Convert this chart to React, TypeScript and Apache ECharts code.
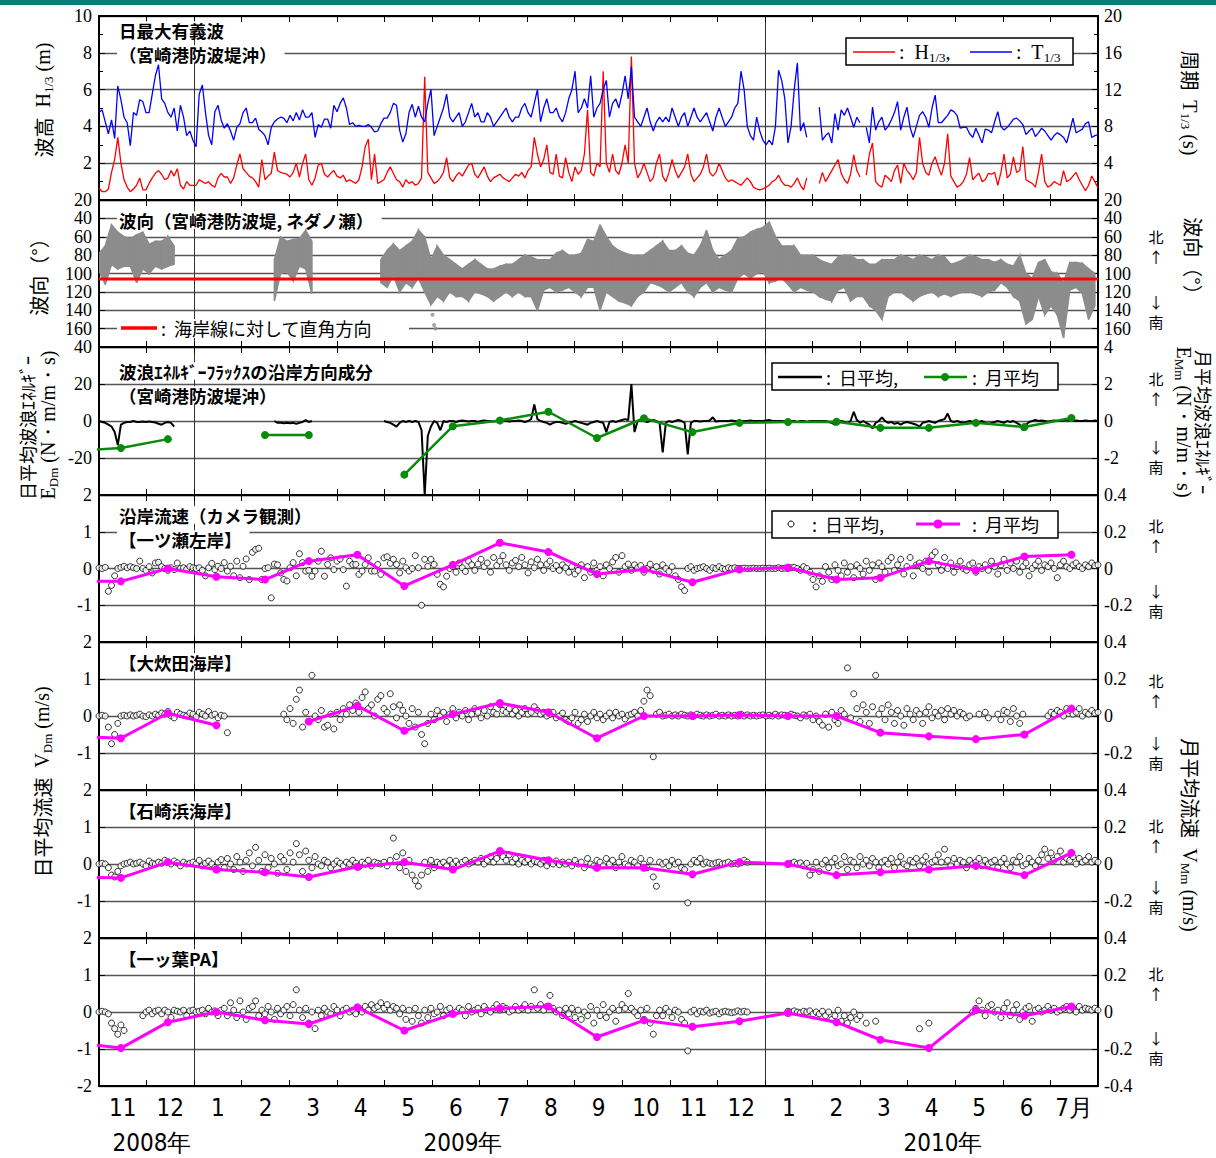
import React, { useEffect, useRef } from 'react';
import * as echarts from 'echarts';

// ---------- categories / labels ----------
const MONTH_LABELS = ['11', '12', '1', '2', '3', '4', '5', '6', '7', '8', '9', '10', '11', '12', '1', '2', '3', '4', '5', '6', '7月'];
const YEAR_LABELS = ['2008年', '2009年', '2010年'];
const X_MAX_DAY = 638; // days from 2008-11-01 to 2010-08-01
const DAILY_STEP = 2; // daily arrays: one value every 2 days from 2008-11-01
const DIR_STEP = 4; // wave-direction band: one lo/hi pair every 4 days
const SHORE_NORMAL_DIR = 106; // 海岸線に対して直角方向 (deg)

// ---------- panel 1: 日最大有義波 ----------
const H_DAILY = [
  0.65, 0.45, 0.45, 0.6, 1.5, 2.2, 3.4, 2.0, 1.1, 0.7,
  0.45, 0.6, 0.8, 1.2, 0.55, 0.55, 0.9, 1.2, 1.45, 1.6,
  1.4, 1.1, 1.2, 1.6, 1.3, 1.7, 0.8, 0.6, 1.0, 0.8,
  0.8, 0.8, 1.1, 1.0, 0.9, 1.0, 0.8, 0.7, 1.2, 1.45,
  1.25, 1.25, 0.9, 1.2, 1.9, 2.5, 1.7, 1.5, 1.3, 1.2,
  1.0, 0.7, 2.2, 1.1, 1.3, 1.45, 2.6, 1.6, 1.5, 1.45,
  1.4, 1.25, 1.5, 2.0, 1.25, 2.0, 2.5, 1.1, 0.8, 1.2,
  1.9, 2.0, 1.4, 1.25, 1.45, 1.6, 1.3, 1.2, 1.35, 1.0,
  1.1, 1.0, 0.9, 1.1, 1.8, 2.9, 3.3, 1.1, 2.5, 0.9,
  1.0, 1.1, 1.5, 1.8, 1.45, 1.1, 1.0, 0.7, 1.1, 0.9,
  1.0, 0.8, 0.9, 1.2, 6.7, 1.5, 1.2, 0.9, 1.0, 1.2,
  1.5, 2.3, 1.2, 1.0, 1.3, 1.5, 1.3, 1.6, 1.9, 2.0,
  1.4, 1.2, 1.5, 1.8, 1.3, 1.0, 1.2, 1.3, 1.4, 1.2,
  1.1, 1.0, 1.2, 1.4, 1.3, 1.5, 1.2, 1.6, 1.8, 3.4,
  2.5, 1.8, 2.2, 3.0, 1.5, 1.4, 2.5, 1.3, 1.2, 2.3,
  1.5, 1.0, 1.8, 1.4, 1.6, 2.5, 4.9, 1.5, 1.3, 2.0,
  1.8, 7.0, 2.0, 1.5, 2.5, 1.6, 1.4, 2.0, 3.0, 2.0,
  7.8, 2.0, 1.2, 1.5, 2.0, 1.5, 1.0, 1.2, 2.0, 2.5,
  1.3, 1.0, 1.5, 2.2, 1.6, 1.2, 1.5, 1.8, 2.5, 1.4,
  1.0, 1.2, 1.4, 1.8, 2.5, 1.5, 1.3, 1.5, 2.0, 1.6,
  1.2, 1.0, 1.1, 1.0, 0.9, 0.8, 1.0, 1.2, 1.0, 0.7,
  0.6, 0.55, 0.6, 0.7, 0.8, 1.0, 1.1, 1.35, 1.0, 0.8,
  0.8, 0.7, 0.9, 1.2, 0.8, 0.55, 1.2, null, null, null,
  0.9, 1.5, 1.0, 1.3, 1.6, 1.9, 2.2, 1.45, 1.1, 0.9,
  1.4, 2.45, 1.6, 1.25, null, 1.35, 2.5, 3.1, 1.0, 0.8,
  0.7, 1.35, 1.2, 1.0, 1.6, 1.9, 0.9, 2.0, 1.6, 1.4,
  1.1, 1.5, 3.4, 2.0, 1.5, 1.35, 2.0, 2.35, 1.8, 1.35,
  2.0, 3.6, 1.3, 1.0, 0.7, 0.8, 1.0, 1.4, 2.3, 1.1,
  1.3, 1.45, 1.0, 1.1, 1.45, 1.4, 1.5, 0.8, 1.5, 2.5,
  1.2, 1.4, 2.35, 1.5, 1.6, 2.9, 1.1, 1.0, 0.9, 0.7,
  1.5, 2.5, 1.0, 0.7, 0.8, 1.0, 0.9, 0.8, 1.6, 1.0,
  1.1, 1.3, 1.5, 1.1, 0.8, 0.5, 0.8, 1.3, 1.0, 0.65,
];
const T_DAILY = [
  9.5, 9.8, 8.5, 7.2, 8.7, 6.7, 12.4, 10.9, 9.0, 8.4,
  5.9, 9.5, 9.2, 10.9, 10.7, 9.5, 9.5, 11.5, 13.5, 14.7,
  11.0, 10.5, 9.5, 9.0, 10.0, 7.5, 10.3, 9.0, 7.0, 7.5,
  6.5, 5.8, 11.5, 12.5, 9.5, 7.0, 6.0, 9.6, 10.3, 8.7,
  7.8, 8.3, 7.5, 6.5, 7.9, 8.3, 9.5, 10.0, 8.4, 8.4,
  8.9, 7.7, 7.4, 7.0, 6.0, 7.9, 8.5, 8.8, 9.0, 8.9,
  8.4, 9.2, 8.6, 9.5, 8.7, 9.8, 9.0, 9.0, 9.5, 6.8,
  8.2, 7.9, 8.8, 8.8, 7.8, 10.3, 9.6, 10.5, 11.1, 10.0,
  8.2, 8.4, 8.0, 8.1, 8.0, 8.0, 8.2, 7.9, 7.4, 7.5,
  8.3, 8.9, 8.9, 9.5, 10.5, 10.3, 7.6, 6.3, 7.2, 9.5,
  10.4, 9.0, 10.2, 9.0, 8.5, 10.5, 12.0, 7.0, 8.0, 9.0,
  10.0, 11.5, 9.0, 8.5, 9.0, 9.5, 8.0, 8.5, 9.5, 10.5,
  9.0, 9.5, 8.5, 8.5, 9.5, 9.0, 8.0, 8.5, 9.0, 9.5,
  10.0, 9.0, 8.5, 9.0, 9.0, 10.0, 10.5, 9.5, 9.0, 10.5,
  12.0, 8.5, 10.0, 11.0, 9.5, 9.5, 10.0, 9.0, 8.5, 9.5,
  11.0, 12.0, 14.0, 9.5, 10.0, 11.0, 10.0, 13.5, 9.0, 10.0,
  10.5, 12.0, 13.0, 9.0, 10.5, 11.0, 10.0, 11.5, 13.5, 11.0,
  14.5, 9.0, 8.5, 8.0, 9.0, 10.0, 8.5, 7.5, 8.5, 9.0,
  8.5, 9.0, 8.5, 10.0, 9.0, 8.0, 9.0, 9.5, 8.0, 9.0,
  10.0, 9.0, 8.5, 9.0, 9.5, 8.5, 7.5, 9.0, 10.0, 9.0,
  8.0, 8.5, 9.0, 10.0, 10.5, 14.0, 12.0, 8.0, 7.0, 6.5,
  9.0, 7.5, 6.5, 6.0, 6.5, 6.0, 8.0, 14.1, 13.0, 11.0,
  6.2, 8.0, 12.0, 14.9, 7.5, 8.4, 6.8, null, null, null,
  10.1, 6.5, 7.0, 7.3, 6.2, 9.4, 7.6, 9.8, 9.2, 10.0,
  9.0, 7.9, 9.0, 8.4, null, 7.9, 6.2, 10.1, 7.6, 8.5,
  9.0, 7.6, 8.0, 8.7, 9.5, 10.7, 7.6, 9.0, 10.1, 7.9,
  6.8, 8.0, 9.2, 9.6, 9.0, 7.9, 10.0, 11.4, 8.4, 8.4,
  8.8, 9.2, 9.8, 9.6, 9.2, 7.8, 7.9, 7.9, 7.2, 6.8,
  7.8, 7.0, 6.2, 7.7, 7.6, 7.3, 8.5, 9.6, 8.0, 7.6,
  7.9, 8.3, 8.8, 8.9, 8.6, 8.2, 7.1, 7.5, 7.8, 6.9,
  7.3, 7.8, 7.5, 7.0, 6.5, 7.0, 7.3, 7.1, 6.8, 6.2,
  7.5, 8.9, 7.3, 7.5, 7.7, 8.3, 8.5, 6.8, 7.0, 7.1,
];

// ---------- panel 2: 波向 (band low / high, deg) ----------
const DIR_LO = [
  78, 70, 47, 55, 60, 62, 58, 55, 68, 65, 65, 60, 70,
  null, null, null, null, null, null, null, null, null, null, null, null, null, null, null,
  85, 60, 65, 63, 62, 53, 65,
  null, null, null, null, null, null, null, null, null, null,
  85, 75, 68, 75, 70, 65, 53, 60, 85, 70,
  80, 85, 90, 95, 90, 85, 90, 95, 95, 92,
  90, 90, 85, 80, 82, 85, 85, 85, 78, 75,
  80, 80, 78, 63, 65, 47, 60, 70, 75, 78,
  80, 80, 80, 75, 70, 65, 75, 75, 70, 78,
  80, 70, 53, 75, 85, 80, 75, 62, 60, 55,
  52, 50, 44, 60, 70, 70, 70, 80, 80, 80,
  85, 88, 90, 82, 80, 80, 85, 85, 90, 90,
  85, 85, 85, 80, 82, 85, 80, 82, 85, 80,
  82, 90, 88, 85, 80, 82, 85, 85, 88, 85,
  90, 92, 80, 100, 105, 88, 85, 98, 100, 110,
  88, 88, 89, 95, 100,
];
const DIR_HI = [
  97, 112, 90, 95, 92, 92, 110, 95, 100, 92, 95, 92, 90,
  null, null, null, null, null, null, null, null, null, null, null, null, null, null, null,
  130, 100, 98, 108, 92, 95, 122,
  null, null, null, null, null, null, null, null, null, null,
  110, 115, 102, 120, 110, 115, 105, 120, 134, 125,
  130, 120, 125, 125, 130, 120, 122, 125, 130, 125,
  120, 125, 120, 125, 125, 140, 118, 115, 120, 118,
  115, 120, 125, 115, 115, 140, 120, 125, 130, 132,
  135, 125, 120, 110, 112, 115, 120, 115, 110, 120,
  125, 115, 110, 120, 115, 118, 120, 105, 100, 105,
  100, 98, 110, 108, 105, 112, 120, 115, 118, 120,
  125, 128, 130, 118, 115, 130, 125, 125, 135, 140,
  150, 125, 120, 120, 125, 130, 125, 122, 120, 125,
  122, 125, 122, 120, 120, 122, 125, 120, 118, 110,
  115, 125, 130, 155, 150, 125, 145, 135, 145, 170,
  118, 115, 122, 150, 135,
];
const DIR_OUTLIER_DAYS = [213, 214, 215];
const DIR_OUTLIER_DEG = [145, 156, 160];

// ---------- panel 3: 波浪ｴﾈﾙｷﾞｰﾌﾗｯｸｽ ----------
const E_DAILY = [
  0, -0.5, -1, -2, -3, -6, -13, -2, -1, -0.5,
  -0.5, 0, -0.5, -0.5, -0.3, -0.5, -0.3, -0.5, -0.8, -1.5,
  -2, -1, -0.5, -1, -3, null, null, null, null, null,
  null, null, null, null, null, null, null, null, null, null,
  null, null, null, null, null, null, null, null, null, null,
  null, null, null, null, null, null, 0, -1, -1, -1.2,
  -1, -1.2, -1, -1.5, -1, -0.5, 0.5, -0.5, 0, null,
  null, null, null, null, null, null, null, null, null, null,
  null, null, null, null, null, null, null, null, null, null,
  null, 0, -0.5, -1, -2, -3, -1, 0, -0.5, 0,
  -0.5, 0, -0.5, -5, -40, -8, -3, 0, -1, -5,
  0, -0.5, 0, 0, -0.5, 0, 0.3, 0, -0.3, 0,
  0, -0.5, 0, 0.3, 0, 0, -0.3, 0, 0, 0.5,
  0, -0.3, 0, 0, 0.3, 0, -0.5, 0, 1, 9,
  1, 0, -0.5, -1, -2, -1, -0.5, -0.5, -1, -1.5,
  -1, -0.5, 0, -0.5, -1, -1.5, -2, -1, -0.5, 0,
  -0.5, -1, -6, -0.5, 0, -0.5, 0, 0.5, 1, 0.5,
  20, -6, 0, 0.5, 0, -0.5, 0, 0.5, 0, -1,
  -17, -1, 0, -0.5, 0, 0.5, 0, -1, -18, -1,
  0, 0, -0.3, 0, 0, 0.3, 2, -0.3, 0, 0,
  0, 0, 0.3, 0, 0, -0.3, 0, 0, 0.3, 0,
  0, 0, 0, 0.3, 0.5, 0, 0, 0, 0, -0.3,
  0, 0, 0, -0.5, 0, 0, -0.5, 0, 0, 0,
  0, 0, 0, -0.5, -1, -2, -0.5, 0, -0.5, -1,
  0, 5, 0.5, -1, 0, -1, -2, -4, -1, 0,
  2, 0, -1, -0.5, -1.5, -1, -2, -1, -0.5, -1,
  -1.5, -2, -3, -1, -0.5, 0, -0.5, -1, 0, 0.5,
  1, 4, 0, -0.5, 0, -0.5, -1, -0.5, 0, -0.5,
  -1, -0.5, 0, -1, -1.5, -1, -0.5, 0, -0.5, -1,
  0, -0.5, 0, -1, -2, -5, -2, -0.5, 0, 0.5,
  0, 0.3, 0, -0.3, 0, 0.3, 0, 0, 0.3, 0.5,
  0, 0, 0.3, 0, 0, 0.3, 0, 0, 0.3, 0,
];
// monthly means, Oct 2008 .. Jul 2010 (right axis)
const E_MONTHLY = [-1.62, -1.46, -0.98, null, -0.76, -0.76, null, -2.9, -0.28, 0.03, 0.5, -0.92, 0.15, -0.6, -0.1, -0.05, -0.04, -0.37, -0.37, -0.1, -0.32, 0.16];

// ---------- panels 4-7: 沿岸流速 ----------
const V_ICHITSUSE_DAILY = [
  0.02, 0.0, 0.03, -0.62, -0.46, -0.2, 0.0, 0.03, 0.06, 0.02,
  0.05, 0.02, 0.0, 0.2, 0.0, -0.05, 0.05, -0.12, 0.15, 0.17,
  0.05, 0.0, -0.05, 0.02, -0.03, 0.15, 0.0, 0.02, -0.02, 0.05,
  0.02, 0.0, 0.02, -0.05, -0.2, 0.02, 0.14, -0.03, 0.06, 0.0,
  0.16, -0.07, 0.06, -0.2, 0.2, -0.25, 0.06, 0.26, -0.3, 0.44,
  0.52, 0.55, -0.3, 0.0, 0.02, -0.8, 0.12, 0.1, -0.12, -0.3,
  -0.34, 0.02, 0.16, -0.2, 0.4, 0.16, -0.07, -0.05, -0.21, -0.07,
  0.2, 0.47, -0.21, 0.11, 0.29, -0.03, 0.2, 0.26, -0.03, -0.48,
  0.2, 0.11, 0.11, -0.16, -0.07, 0.11, 0.29, -0.07, -0.07, 0.11,
  -0.16, 0.29, 0.32, 0.14, 0.25, 0.11, -0.12, 0.2, 0.02, -0.07,
  0.0, 0.35, 0.02, -1.0, 0.25, 0.06, 0.25, 0.11, -0.16, -0.43,
  -0.5, -0.21, 0.0, 0.05, -0.1, 0.15, 0.02, -0.08, 0.2, 0.1,
  -0.05, 0.12, 0.25, 0.05, 0.15, -0.1, 0.3, 0.08, 0.2, 0.35,
  0.1, -0.05, 0.15, 0.22, 0.05, 0.3, 0.1, -0.12, 0.18, 0.02,
  0.25, 0.1, -0.05, 0.12, 0.2, 0.0, 0.08, -0.05, 0.1, 0.02,
  -0.1, 0.05, -0.15, -0.05, 0.1, -0.25, 0.05, -0.1, 0.15, -0.05,
  0.05, -0.2, 0.1, 0.0, 0.18, 0.3, -0.1, 0.35, 0.05, 0.12,
  -0.05, 0.1, 0.02, 0.08, -0.1, 0.0, 0.12, -0.05, 0.05, -0.15,
  0.1, 0.0, -0.08, 0.05, -0.2, -0.3, -0.5, -0.6, 0.0, 0.05,
  -0.05, 0.0, 0.02, 0.05, 0.0, -0.05, 0.02, 0.0, 0.05, 0.0,
  -0.02, 0.02, 0.0, 0.02, 0.0, 0.0, 0.01, 0.0, 0.0, 0.01,
  0.0, 0.0, 0.01, 0.0, 0.01, 0.0, 0.0, 0.02, 0.0, 0.01,
  0.0, 0.02, 0.03, 0.0, -0.05, 0.05, 0.0, -0.1, -0.3, -0.5,
  -0.2, -0.35, 0.05, -0.1, -0.3, 0.1, -0.05, -0.2, 0.15, -0.1,
  0.05, -0.25, 0.1, 0.0, -0.15, 0.2, -0.05, 0.1, -0.3, 0.15,
  0.05, -0.1, 0.2, 0.3, -0.05, 0.1, 0.25, -0.15, 0.05, 0.3,
  -0.2, 0.1, 0.15, 0.0, 0.2, -0.1, 0.35, 0.45, 0.1, -0.05,
  0.3, 0.0, 0.15, -0.1, 0.05, 0.2, 0.0, -0.05, 0.1, 0.15,
  -0.1, 0.05, 0.0, 0.1, -0.05, 0.2, 0.05, -0.15, 0.1, 0.25,
  -0.05, 0.15, 0.0, 0.2, -0.1, 0.05, 0.15, -0.2, 0.0, 0.1,
  0.2, -0.05, 0.1, 0.05, 0.15, 0.0, -0.25, 0.1, 0.2, 0.05,
  0.0, 0.1, 0.15, 0.05, 0.0, 0.1, 0.05, 0.15, 0.08, 0.1,
];
const V_OHIDA_DAILY = [
  0.0, 0.02, 0.0, -0.3, -0.75, -0.5, -0.2, 0.0, 0.02, 0.0,
  0.03, 0.0, 0.02, 0.05, 0.0, -0.02, 0.03, 0.0, 0.05, 0.02,
  0.08, 0.05, 0.12, 0.0, -0.05, 0.1, 0.05, 0.02, 0.0, 0.08,
  0.05, -0.02, 0.1, 0.05, 0.0, 0.12, 0.02, 0.05, -0.05, 0.02,
  0.0, -0.45, null, null, null, null, null, null, null, null,
  null, null, null, null, null, null, null, null, null, 0.05,
  -0.1, 0.2, -0.2, 0.45, 0.7, -0.3, 0.1, -0.15, 1.1, 0.0,
  -0.1, 0.15, -0.3, -0.25, 0.05, -0.35, 0.1, -0.1, 0.2, 0.05,
  0.3, 0.15, 0.35, 0.1, 0.5, 0.65, 0.2, 0.3, 0.0, 0.45,
  0.55, 0.2, 0.1, 0.6, 0.25, -0.05, 0.3, 0.15, 0.0, -0.2,
  0.2, -0.3, 0.1, -0.5, -0.75, -0.2, 0.05, -0.1, 0.15, 0.0,
  0.1, -0.15, 0.05, 0.2, -0.05, 0.1, 0.0, 0.15, -0.1, 0.05,
  0.2, 0.1, -0.05, 0.15, 0.0, 0.25, 0.1, 0.05, 0.3, 0.15,
  0.1, 0.2, 0.05, 0.15, 0.0, 0.1, 0.2, 0.05, 0.1, 0.25,
  0.15, 0.05, 0.1, 0.0, 0.05, 0.1, -0.05, 0.0, 0.08, -0.1,
  -0.15, -0.05, 0.1, -0.2, -0.1, 0.05, -0.15, 0.0, 0.1, -0.05,
  0.05, -0.1, 0.0, 0.08, -0.05, 0.1, 0.0, 0.05, -0.08, 0.02,
  0.05, 0.1, 0.0, 0.15, 0.4, 0.7, 0.55, -1.1, 0.05, 0.1,
  0.0, 0.02, 0.05, 0.0, 0.03, 0.0, 0.05, 0.02, 0.0, 0.03,
  0.0, 0.05, 0.02, 0.0, 0.03, 0.0, 0.02, 0.05, 0.0, 0.02,
  0.0, 0.03, 0.0, 0.02, 0.0, 0.05, 0.0, 0.03, 0.0, 0.02,
  0.0, 0.02, 0.03, 0.0, 0.02, 0.0, 0.05, 0.0, 0.03, 0.02,
  0.0, 0.05, 0.02, 0.0, -0.05, 0.03, 0.0, 0.05, -0.1, 0.0,
  -0.15, -0.25, 0.05, -0.3, 0.1, -0.1, -0.2, 0.15, 0.05, 1.3,
  -0.05, 0.6, 0.2, -0.15, 0.3, 0.1, -0.2, 0.25, 1.1, 0.05,
  0.2, -0.1, 0.3, 0.1, -0.2, 0.15, 0.0, -0.25, 0.2, 0.05,
  -0.1, 0.15, 0.05, -0.2, 0.1, 0.25, -0.05, 0.1, 0.0, 0.15,
  -0.1, 0.2, 0.05, 0.15, 0.0, 0.1, 0.05, -0.05, 0.0, null,
  null, 0.05, null, 0.1, -0.05, null, null, 0.05, -0.1, 0.15,
  0.1, -0.15, 0.2, 0.0, -0.2, 0.05, null, null, null, null,
  null, null, null, 0.0, 0.1, 0.05, 0.15, 0.1, 0.0, 0.2,
  0.15, 0.05, 0.1, 0.2, 0.0, 0.1, 0.05, 0.15, 0.08, 0.1,
];
const V_ISHIZAKI_DAILY = [
  0.0, 0.02, 0.0, -0.1, -0.3, -0.35, -0.2, -0.05, 0.0, 0.02,
  0.05, 0.0, 0.02, 0.05, 0.0, -0.05, 0.08, 0.02, 0.0, 0.05,
  0.02, 0.1, 0.05, 0.0, 0.08, 0.03, -0.05, 0.05, 0.0, 0.02,
  0.05, 0.0, 0.1, -0.05, 0.02, 0.08, 0.0, -0.1, 0.05, 0.12,
  -0.1, 0.15, 0.0, -0.15, 0.2, 0.05, -0.2, 0.1, 0.3, -0.05,
  0.45, 0.1, -0.2, 0.25, -0.1, 0.15, 0.0, -0.25, 0.2, 0.1,
  -0.15, 0.3, 0.05, 0.55, 0.25, -0.2, 0.35, 0.1, -0.1, 0.2,
  0.0, -0.05, 0.1, 0.05, -0.1, 0.0, 0.08, 0.02, -0.05, 0.05,
  0.0, 0.1, 0.02, -0.08, 0.05, 0.0, 0.1, -0.05, 0.05, 0.02,
  0.0, 0.05, -0.05, 0.1, 0.7, 0.2, -0.1, 0.3, -0.2, 0.1,
  -0.3, -0.45, -0.6, -0.3, 0.05, -0.2, 0.1, -0.1, 0.05, 0.0,
  0.05, -0.05, 0.1, 0.0, 0.08, -0.02, 0.05, 0.1, 0.0, 0.05,
  0.1, 0.05, 0.15, 0.0, 0.1, 0.2, 0.05, 0.15, 0.3, 0.2,
  0.1, 0.25, 0.05, 0.15, 0.0, 0.1, 0.05, 0.12, 0.0, 0.08,
  0.05, 0.0, 0.1, -0.05, 0.05, 0.0, 0.08, -0.02, 0.05, 0.0,
  0.05, -0.05, 0.1, 0.0, 0.05, -0.1, 0.15, 0.0, -0.05, 0.1,
  0.05, -0.05, 0.15, 0.0, 0.1, -0.1, 0.05, 0.2, 0.0, -0.05,
  0.1, 0.05, -0.05, 0.15, 0.0, -0.1, 0.1, -0.35, -0.6, 0.05,
  0.0, 0.05, -0.05, 0.1, 0.0, 0.05, -0.1, -0.15, -1.05, 0.0,
  0.1, 0.05, 0.15, 0.0, 0.05, 0.02, 0.0, 0.03, 0.05, 0.0,
  0.02, 0.05, 0.0, 0.02, 0.0, 0.03, 0.1, 0.05, null, null,
  null, null, null, null, null, null, null, null, null, null,
  0.0, 0.02, 0.05, 0.0, 0.03, -0.05, 0.02, -0.3, -0.15, 0.05,
  -0.2, 0.0, 0.1, -0.1, 0.05, 0.15, -0.05, 0.0, 0.2, -0.15,
  0.1, 0.05, -0.1, 0.2, 0.0, 0.1, -0.05, 0.15, 0.05, -0.1,
  0.05, 0.1, 0.0, 0.15, -0.1, 0.05, 0.2, 0.0, -0.05, 0.1,
  0.05, 0.15, -0.05, 0.1, 0.2, 0.0, 0.05, 0.1, 0.25, 0.05,
  0.4, 0.1, -0.05, 0.15, 0.0, 0.1, 0.05, -0.1, 0.1, 0.0,
  0.05, 0.15, -0.05, 0.1, 0.0, 0.05, 0.1, -0.1, 0.05, 0.15,
  0.0, -0.1, 0.1, 0.05, 0.2, -0.05, 0.0, 0.15, 0.05, -0.05,
  0.1, 0.25, 0.4, 0.15, 0.3, 0.1, 0.2, 0.35, 0.05, 0.15,
  0.1, 0.2, 0.0, 0.15, 0.05, 0.1, 0.2, 0.05, 0.1, 0.05,
];
const V_HITOTSUBA_DAILY = [
  0.0, 0.02, 0.0, -0.05, -0.3, -0.45, -0.6, -0.35, -0.5, null,
  null, null, null, null, -0.1, 0.0, 0.05, -0.05, 0.02, 0.05,
  -0.05, 0.05, 0.0, -0.15, 0.05, 0.02, 0.0, 0.05, -0.1, 0.03,
  0.05, 0.0, 0.02, 0.05, -0.05, 0.1, 0.0, 0.03, -0.1, 0.05,
  0.1, -0.1, 0.25, 0.05, -0.15, 0.3, 0.0, -0.2, 0.1, 0.15,
  0.3, -0.1, 0.05, -0.05, 0.15, 0.0, -0.2, 0.1, -0.05, 0.05,
  0.15, -0.1, 0.2, 0.6, 0.05, -0.15, 0.1, -0.3, 0.0, -0.45,
  0.05, -0.1, 0.1, 0.0, -0.05, 0.15, 0.05, -0.1, 0.05, 0.1,
  0.0, 0.05, -0.05, 0.1, 0.0, 0.15, 0.05, 0.2, 0.1, 0.15,
  0.25, 0.1, 0.2, 0.05, 0.15, 0.1, -0.05, 0.1, -0.2, 0.05,
  -0.25, 0.1, -0.1, -0.3, 0.05, -0.15, 0.1, -0.05, 0.0, 0.15,
  -0.1, 0.05, 0.1, -0.05, 0.0, 0.1, 0.05, -0.1, 0.15, 0.0,
  0.05, 0.1, -0.05, 0.15, 0.05, 0.0, 0.1, 0.2, 0.05, 0.15,
  0.1, 0.0, 0.05, 0.15, 0.05, 0.1, 0.2, 0.05, 0.15, 0.6,
  0.1, 0.2, 0.05, 0.15, 0.45, 0.1, 0.0, 0.05, -0.1, 0.1,
  -0.05, 0.1, -0.15, 0.05, -0.2, 0.0, -0.1, 0.15, -0.3, 0.05,
  -0.1, 0.2, -0.15, 0.0, 0.1, -0.25, 0.05, 0.2, 0.1, 0.5,
  0.1, 0.0, -0.1, 0.05, -0.2, 0.1, -0.3, -0.6, -0.1, 0.05,
  -0.1, 0.1, 0.0, -0.15, 0.05, 0.0, -0.2, -0.3, -1.05, 0.0,
  0.05, -0.05, 0.02, 0.0, 0.05, -0.03, 0.0, 0.02, -0.05, 0.0,
  0.02, 0.0, -0.02, 0.0, 0.03, 0.0, 0.02, 0.0, null, null,
  null, null, null, null, null, null, null, null, null, null,
  0.02, 0.0, 0.03, 0.0, -0.02, 0.02, 0.0, 0.03, -0.05, 0.0,
  -0.05, 0.02, -0.1, 0.0, -0.2, -0.1, 0.05, -0.25, -0.1, -0.3,
  -0.15, 0.0, -0.2, -0.1, null, -0.3, null, null, -0.25, null,
  null, null, null, null, null, null, null, null, null, null,
  null, null, -0.45, null, null, -0.3, null, null, null, null,
  null, null, null, null, null, null, null, null, null, 0.0,
  0.1, 0.3, 0.05, -0.1, 0.15, 0.2, 0.0, 0.05, -0.15, 0.1,
  0.25, -0.1, 0.05, 0.2, -0.2, 0.0, 0.1, 0.15, -0.25, 0.05,
  0.1, 0.0, 0.05, 0.15, 0.05, 0.1, 0.0, 0.05, 0.1, 0.15,
  0.05, 0.1, 0.0, 0.15, 0.05, 0.1, 0.08, 0.05, 0.1, 0.05,
];
// monthly means (right axis), Oct 2008 .. Jul 2010
const V_ICHITSUSE_MONTHLY = [-0.07, -0.07, 0.0, -0.045, -0.06, 0.04, 0.075, -0.095, 0.02, 0.14, 0.09, -0.03, -0.005, -0.075, -0.005, 0.005, -0.06, -0.05, 0.04, -0.01, 0.065, 0.075];
const V_OHIDA_MONTHLY = [-0.11, -0.12, 0.015, -0.05, null, -0.03, 0.055, -0.08, 0.01, 0.07, 0.02, -0.12, 0.0, 0.0, 0.005, 0.0, 0.0, -0.09, -0.11, -0.125, -0.1, 0.04];
const V_ISHIZAKI_MONTHLY = [-0.07, -0.075, 0.01, -0.03, -0.045, -0.07, -0.015, 0.01, -0.03, 0.07, 0.02, -0.02, -0.02, -0.055, 0.01, 0.0, -0.06, -0.045, -0.03, -0.01, -0.06, 0.06];
const V_HITOTSUBA_MONTHLY = [-0.165, -0.195, -0.055, 0.0, -0.045, -0.065, 0.025, -0.1, -0.01, 0.02, 0.03, -0.135, -0.045, -0.08, -0.05, -0.005, -0.055, -0.15, -0.195, 0.01, -0.02, 0.03];

// ---------- helpers ----------
const START_UTC = Date.UTC(2008, 10, 1);
const monthMidDay = (m: number) => (Date.UTC(2008, 9 + m, 15) - START_UTC) / 86400000;
const stepPairs = (arr: (number | null)[], step: number) => arr.map((v, i) => [i * step, v]);
const monthlyPairs = (arr: (number | null)[]) => arr.map((v, m) => [monthMidDay(m), v]);

const JP = '"Noto Sans CJK JP", "Noto Sans", sans-serif';
const SERIF = '"Liberation Serif", "Times New Roman", serif';
const NARROW = '"Liberation Sans Narrow", "DejaVu Sans Condensed", "Liberation Sans", sans-serif';

const PANELS = [
  { top: 16, height: 184 },
  { top: 200, height: 147 },
  { top: 347, height: 148 },
  { top: 495, height: 147 },
  { top: 642, height: 148 },
  { top: 790, height: 148 },
  { top: 938, height: 148 },
];

type YSpec = { min: number; max: number; interval: number; minor?: number; inverse?: boolean; hide?: number };
const VEL_L: YSpec = { min: -2, max: 2, interval: 1, hide: -2 };
const VEL_R: YSpec = { min: -0.4, max: 0.4, interval: 0.2, hide: -0.4 };
const Y_SPECS: [YSpec, YSpec][] = [
  [{ min: 0, max: 10, interval: 2, minor: 2, hide: 0 }, { min: 0, max: 20, interval: 4, minor: 2, hide: 0 }],
  [{ min: 20, max: 180, interval: 20, inverse: true, hide: 180 }, { min: 20, max: 180, interval: 20, inverse: true, hide: 180 }],
  [{ min: -40, max: 40, interval: 20, hide: -40 }, { min: -4, max: 4, interval: 2, hide: -4 }],
  [VEL_L, VEL_R],
  [VEL_L, VEL_R],
  [VEL_L, VEL_R],
  [{ min: -2, max: 2, interval: 1 }, { min: -0.4, max: 0.4, interval: 0.2 }],
];

const fmt = (v: number) => String(Math.round(v * 100) / 100);

function yAxisOf(g: number, side: 'left' | 'right', s: YSpec) {
  return {
    type: 'value', gridIndex: g, position: side, min: s.min, max: s.max, interval: s.interval, inverse: !!s.inverse,
    axisLine: { show: true, onZero: false, lineStyle: { color: '#000', width: 2 } },
    axisTick: { show: true, inside: true, length: 6, lineStyle: { color: '#000', width: 1 } },
    minorTick: s.minor ? { show: true, splitNumber: s.minor, length: 4, lineStyle: { color: '#000', width: 1 } } : { show: false },
    axisLabel: {
      show: true, margin: side === 'left' ? 7 : 6, color: '#000', fontFamily: SERIF, fontSize: 18,
      formatter: (v: number) => (s.hide !== undefined && Math.abs(v - s.hide) < 1e-9 ? '' : fmt(v)),
    },
    splitLine: { show: side === 'left', lineStyle: { color: '#555', width: 1.4 } },
    minorSplitLine: { show: false },
  };
}

function catAxisOf(g: number, pos: 'top' | 'bottom') {
  const isBottomLabels = g === PANELS.length - 1 && pos === 'bottom';
  return {
    type: 'category', gridIndex: g, position: pos, data: MONTH_LABELS, boundaryGap: true,
    axisLine: { show: true, onZero: false, lineStyle: { color: '#000', width: 2 } },
    axisTick: { show: true, inside: true, length: 6, interval: 0, lineStyle: { color: '#000', width: 1 } },
    axisLabel: {
      show: isBottomLabels, interval: 0, margin: 10, color: '#000', fontFamily: NARROW, fontSize: 24,
    },
    splitLine: {
      show: pos === 'bottom',
      interval: (i: number) => i === 2 || i === 14,
      lineStyle: { color: '#333', width: 1 },
    },
  };
}

function buildOption() {
  const grid = PANELS.map((p) => ({ left: 99, width: 999, top: p.top, height: p.height, show: false, containLabel: false, outerBoundsMode: 'none' }));
  const xAxis: any[] = [];
  const yAxis: any[] = [];
  PANELS.forEach((_, g) => {
    xAxis.push({ type: 'value', gridIndex: g, min: 0, max: X_MAX_DAY, show: false, position: 'bottom' });
    xAxis.push(catAxisOf(g, 'bottom'));
    xAxis.push(catAxisOf(g, 'top'));
    yAxis.push(yAxisOf(g, 'left', Y_SPECS[g][0]));
    yAxis.push(yAxisOf(g, 'right', Y_SPECS[g][1]));
  });
  const xi = (g: number) => g * 3;
  const series: any[] = [];

  // panel 1
  series.push({ type: 'line', xAxisIndex: xi(0), yAxisIndex: 0, data: stepPairs(H_DAILY, DAILY_STEP), symbol: 'none', connectNulls: false, lineStyle: { color: '#ff0000', width: 1.3 }, itemStyle: { color: '#ff0000' }, z: 3 });
  series.push({ type: 'line', xAxisIndex: xi(0), yAxisIndex: 1, data: stepPairs(T_DAILY, DAILY_STEP), symbol: 'none', connectNulls: false, lineStyle: { color: '#0000ff', width: 1.3 }, itemStyle: { color: '#0000ff' }, z: 3 });

  // panel 2: band between consecutive lo/hi samples
  const dirSegs: number[][] = [];
  for (let j = 0; j < DIR_LO.length - 1; j++) {
    const l0 = DIR_LO[j], h0 = DIR_HI[j], l1 = DIR_LO[j + 1], h1 = DIR_HI[j + 1];
    if (l0 != null && h0 != null && l1 != null && h1 != null) dirSegs.push([j * DIR_STEP, l0, h0, (j + 1) * DIR_STEP, l1, h1]);
  }
  series.push({
    type: 'custom', xAxisIndex: xi(1), yAxisIndex: 2, data: dirSegs, clip: true, z: 3,
    dimensions: ['x0', 'l0', 'h0', 'x1', 'l1', 'h1'],
    encode: { x: [0, 3], y: [1, 2, 4, 5] },
    renderItem: (_p: any, api: any) => {
      const pts = [
        api.coord([api.value(0), api.value(1)]),
        api.coord([api.value(3), api.value(4)]),
        api.coord([api.value(3), api.value(5)]),
        api.coord([api.value(0), api.value(2)]),
      ];
      return { type: 'polygon', shape: { points: pts }, style: { fill: '#8c8c8c', stroke: '#8c8c8c', lineWidth: 1.5 } };
    },
  });
  series.push({ type: 'scatter', xAxisIndex: xi(1), yAxisIndex: 2, data: DIR_OUTLIER_DAYS.map((d, k) => [d, DIR_OUTLIER_DEG[k]]), symbolSize: 4, itemStyle: { color: '#8c8c8c' }, z: 3 });
  series.push({ type: 'line', xAxisIndex: xi(1), yAxisIndex: 2, data: [[0, SHORE_NORMAL_DIR], [X_MAX_DAY, SHORE_NORMAL_DIR]], symbol: 'none', lineStyle: { color: '#ff0000', width: 3 }, z: 4 });

  // panel 3
  series.push({ type: 'line', xAxisIndex: xi(2), yAxisIndex: 4, data: stepPairs(E_DAILY, DAILY_STEP), symbol: 'none', connectNulls: false, lineStyle: { color: '#000', width: 2 }, z: 3 });
  series.push({ type: 'line', xAxisIndex: xi(2), yAxisIndex: 5, data: monthlyPairs(E_MONTHLY), symbol: 'circle', symbolSize: 8, connectNulls: false, lineStyle: { color: '#0a8a0a', width: 2.5 }, itemStyle: { color: '#0a8a0a' }, z: 4 });

  // panels 4-7
  const VEL = [
    [V_ICHITSUSE_DAILY, V_ICHITSUSE_MONTHLY],
    [V_OHIDA_DAILY, V_OHIDA_MONTHLY],
    [V_ISHIZAKI_DAILY, V_ISHIZAKI_MONTHLY],
    [V_HITOTSUBA_DAILY, V_HITOTSUBA_MONTHLY],
  ];
  VEL.forEach(([daily, monthly], k) => {
    const g = 3 + k;
    series.push({ type: 'scatter', xAxisIndex: xi(g), yAxisIndex: 2 * g, data: stepPairs(daily, DAILY_STEP).filter((p) => p[1] != null), symbol: 'circle', symbolSize: 6, itemStyle: { color: '#fff', borderColor: '#000', borderWidth: 1 }, z: 3 });
    series.push({ type: 'line', xAxisIndex: xi(g), yAxisIndex: 2 * g + 1, data: monthlyPairs(monthly), symbol: 'circle', symbolSize: 8, connectNulls: false, lineStyle: { color: '#ff00ff', width: 3 }, itemStyle: { color: '#ff00ff' }, z: 4 });
  });

  // ---------- graphic: titles, legends, axis names ----------
  const Z = 20;
  const title = (x: number, y: number, text: string) => ({
    type: 'text', x, y, z: Z,
    style: { text, fontFamily: JP, fontSize: 17.5, fontWeight: 'bold', fill: '#000', backgroundColor: '#fff', padding: [0, 8, 0, 2], align: 'left', verticalAlign: 'middle' },
  });
  const sub = { fontFamily: SERIF, fontSize: 13, fill: '#000', padding: [10, 0, 0, 0] };
  const serifR = { fontFamily: SERIF, fontSize: 20, fill: '#000' };
  const jpR = { fontFamily: JP, fontSize: 20, fill: '#000' };
  const rotText = (x: number, y: number, text: string, rot: number, rich?: any, size = 20, family = JP) => ({
    type: 'text', x, y, rotation: rot, z: Z,
    style: { text, rich, fontFamily: family, fontSize: size, fill: '#000', align: 'center', verticalAlign: 'middle' },
  });
  const glyph = (x: number, y: number, text: string) => ({
    type: 'text', x, y, z: Z, style: { text, fontFamily: JP, fontSize: 15, lineHeight: 16, fill: '#000', align: 'center', verticalAlign: 'middle' },
  });
  const ns = (x: number, yN: number, yS: number) => [
    glyph(x, yN - 10, '北'), glyph(x, yN + 10, '↑'), glyph(x, yS - 10, '↓'), glyph(x, yS + 10, '南'),
  ];
  const legendText = (x: number, y: number, text: string, rich?: any, family = JP, size = 18) => ({
    type: 'text', x, y, z: Z + 2, style: { text, rich, fontFamily: family, fontSize: size, fill: '#000', align: 'left', verticalAlign: 'middle' },
  });
  const UP = Math.PI / 2;
  const DOWN = -Math.PI / 2;

  const elements: any[] = [
    { type: 'rect', z: Z, shape: { x: 0, y: 0, width: 1216, height: 5 }, style: { fill: '#0b7d78' } },
    // titles
    title(117, 30, '日最大有義波'),
    title(117, 54, '（宮崎港防波堤沖）'),
    title(117, 220, '波向（宮崎港防波堤, ネダノ瀬）'),
    title(117, 371, '波浪ｴﾈﾙｷﾞｰﾌﾗｯｸｽの沿岸方向成分'),
    title(117, 395, '（宮崎港防波堤沖）'),
    title(117, 515, '沿岸流速（カメラ観測）'),
    title(117, 539, '【一ツ瀬左岸】'),
    title(117, 662, '【大炊田海岸】'),
    title(117, 810, '【石崎浜海岸】'),
    title(117, 958, '【一ッ葉PA】'),
    // legend panel 1
    { type: 'rect', z: Z, shape: { x: 846, y: 38, width: 227, height: 27 }, style: { fill: '#fff', stroke: '#000', lineWidth: 1.5 } },
    { type: 'line', z: Z + 1, shape: { x1: 853, y1: 52, x2: 895, y2: 52 }, style: { stroke: '#ff0000', lineWidth: 1.5 } },
    legendText(899, 52, ':  H{s|1/3},', { s: sub }, SERIF, 20),
    { type: 'line', z: Z + 1, shape: { x1: 970, y1: 52, x2: 1012, y2: 52 }, style: { stroke: '#0000ff', lineWidth: 1.5 } },
    legendText(1016, 52, ':  T{s|1/3}', { s: sub }, SERIF, 20),
    // legend panel 2
    { type: 'rect', z: Z, shape: { x: 117, y: 319, width: 292, height: 19 }, style: { fill: '#fff' } },
    { type: 'line', z: Z + 1, shape: { x1: 121, y1: 328, x2: 157, y2: 328 }, style: { stroke: '#ff0000', lineWidth: 3.5 } },
    legendText(161, 328, ':  海岸線に対して直角方向', undefined, JP, 18),
    // legend panel 3
    { type: 'rect', z: Z, shape: { x: 772, y: 363, width: 286, height: 27 }, style: { fill: '#fff', stroke: '#000', lineWidth: 1.5 } },
    { type: 'line', z: Z + 1, shape: { x1: 778, y1: 377, x2: 822, y2: 377 }, style: { stroke: '#000', lineWidth: 2.5 } },
    legendText(826, 377, ':  日平均,'),
    { type: 'line', z: Z + 1, shape: { x1: 924, y1: 377, x2: 967, y2: 377 }, style: { stroke: '#0a8a0a', lineWidth: 2.5 } },
    { type: 'circle', z: Z + 1, shape: { cx: 945, cy: 377, r: 4 }, style: { fill: '#0a8a0a' } },
    legendText(972, 377, ':  月平均'),
    // legend panel 4
    { type: 'rect', z: Z, shape: { x: 772, y: 511, width: 286, height: 27 }, style: { fill: '#fff', stroke: '#000', lineWidth: 1.5 } },
    { type: 'circle', z: Z + 1, shape: { cx: 791, cy: 524, r: 3 }, style: { fill: '#fff', stroke: '#000', lineWidth: 1 } },
    legendText(812, 524, ':  日平均,'),
    { type: 'line', z: Z + 1, shape: { x1: 916, y1: 524, x2: 960, y2: 524 }, style: { stroke: '#ff00ff', lineWidth: 3 } },
    { type: 'circle', z: Z + 1, shape: { cx: 938, cy: 524, r: 4.5 }, style: { fill: '#ff00ff' } },
    legendText(972, 524, ':  月平均'),
    // axis names (left, reading upward)
    rotText(43, 100, '{j|波高}{r|  H}{s|1/3}{r| (m)}', UP, { j: jpR, r: serifR, s: sub }),
    rotText(38, 272, '波向（°）', UP),
    rotText(27, 428, '日平均波浪ｴﾈﾙｷﾞｰ', UP, undefined, 18),
    rotText(48, 425, '{r|E}{s|Dm}{r| (N・m/m・s)}', UP, { r: serifR, s: sub }),
    rotText(42, 782, '{j|日平均流速}{r|  V}{s|Dm}{r| (m/s)}', UP, { j: jpR, r: serifR, s: sub }),
    // axis names (right, reading downward)
    rotText(1190, 103, '{j|周期}{r|  T}{s|1/3}{r| (s)}', DOWN, { j: jpR, r: serifR, s: sub }),
    rotText(1193, 261, '波向（°）', DOWN),
    rotText(1204, 422, '月平均波浪ｴﾈﾙｷﾞｰ', DOWN, undefined, 18),
    rotText(1184, 422, '{r|E}{s|Mm}{r| (N・m/m・s)}', DOWN, { r: serifR, s: sub }),
    rotText(1190, 835, '{j|月平均流速}{r|  V}{s|Mm}{r| (m/s)}', DOWN, { j: jpR, r: serifR, s: sub }),
    // north / south markers
    ...ns(1156, 246, 311),
    ...ns(1156, 388, 456),
    ...ns(1156, 535, 600),
    ...ns(1156, 690, 752),
    ...ns(1156, 835, 896),
    ...ns(1156, 983, 1047),
    // year labels
    { type: 'text', x: 152, y: 1143, z: Z, style: { text: YEAR_LABELS[0], fontFamily: NARROW, fontSize: 24, fill: '#000', align: 'center', verticalAlign: 'middle' } },
    { type: 'text', x: 463, y: 1143, z: Z, style: { text: YEAR_LABELS[1], fontFamily: NARROW, fontSize: 24, fill: '#000', align: 'center', verticalAlign: 'middle' } },
    { type: 'text', x: 943, y: 1143, z: Z, style: { text: YEAR_LABELS[2], fontFamily: NARROW, fontSize: 24, fill: '#000', align: 'center', verticalAlign: 'middle' } },
  ];

  return {
    animation: false,
    backgroundColor: '#fff',
    grid,
    xAxis,
    yAxis,
    series,
    graphic: { elements },
  };
}

export default function App() {
  const ref = useRef<HTMLDivElement>(null);
  useEffect(() => {
    if (!ref.current) return;
    const chart = echarts.init(ref.current, null, { renderer: 'svg' });
    chart.setOption(buildOption() as any);
    return () => chart.dispose();
  }, []);
  return <div ref={ref} style={{ position: 'absolute', left: 0, top: 0, width: 1216, height: 1158, background: '#fff' }} />;
}
